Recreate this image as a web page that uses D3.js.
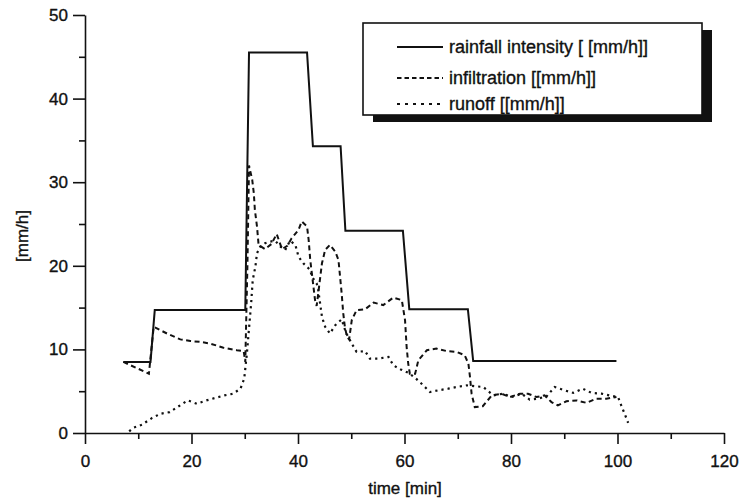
<!DOCTYPE html>
<html>
<head>
<meta charset="utf-8">
<script src="https://cdn.jsdelivr.net/npm/d3@7"></script>
<style>
  html, body { margin: 0; padding: 0; background: #fff; }
  svg { display: block; }
  text { font-family: "Liberation Sans", Arial, Helvetica, sans-serif; fill: #111; stroke: #111; stroke-width: 0.35px; }
</style>
</head>
<body>
<svg id="chart" width="742" height="501"></svg>
<script>
// ---- data ----
const rainTime  = [7.2, 12.3, 13.1, 30.1, 30.8, 41.7, 42.8, 48.0, 48.9, 59.7, 60.9, 71.9, 72.9, 99.8];
const rainValue = [8.5, 8.5, 14.7, 14.7, 45.5, 45.5, 34.3, 34.3, 24.2, 24.2, 14.8, 14.8, 8.6, 8.6];

const infilTime  = [7.2, 12.0, 12.9, 15.4, 17.9, 19.8, 21.7, 23.5, 26.0, 28.5, 29.8, 30.1, 30.5, 30.8, 31.4, 31.7, 31.9, 32.3, 32.6, 33.8, 35.0, 36.0, 37.0, 38.0, 38.8, 40.1, 40.7, 41.7, 42.0, 42.3, 42.6, 42.9, 43.2, 43.5, 43.8, 44.5, 45.1, 46.0, 47.0, 47.6, 47.9, 48.2, 48.5, 48.8, 49.2, 49.6, 50.1, 51.0, 52.6, 54.2, 56.0, 57.9, 59.5, 60.1, 60.4, 60.7, 61.0, 62.0, 62.6, 64.2, 66.0, 67.9, 69.8, 71.3, 72.0, 72.3, 72.6, 73.2, 74.7, 76.4, 78.2, 79.8, 81.7, 83.2, 84.8, 86.3, 87.6, 88.8, 90.4, 92.3, 94.2, 96.0, 97.9, 99.8];
const infilValue = [8.5, 7.1, 12.7, 11.9, 11.2, 11.0, 10.9, 10.7, 10.2, 9.9, 9.8, 8.5, 20.0, 32.0, 30.3, 28.7, 26.7, 24.7, 22.5, 22.0, 22.6, 23.8, 22.0, 22.4, 23.3, 24.3, 25.3, 24.7, 23.1, 20.7, 19.1, 17.5, 15.9, 15.2, 16.7, 20.3, 21.9, 22.5, 21.7, 20.7, 18.7, 16.7, 14.3, 12.7, 11.5, 11.2, 13.5, 14.7, 14.8, 15.6, 15.3, 16.2, 15.9, 13.5, 10.3, 8.3, 7.1, 7.1, 8.7, 9.9, 10.1, 9.8, 9.7, 9.3, 8.3, 6.7, 4.7, 3.1, 3.2, 4.5, 4.7, 4.3, 4.7, 4.7, 4.3, 4.5, 3.7, 3.3, 3.8, 3.9, 3.6, 4.1, 4.1, 4.3];

const runoffTime  = [8.3, 9.0, 10.7, 12.6, 14.2, 15.9, 17.6, 19.3, 21.0, 22.8, 24.5, 26.2, 27.8, 29.2, 29.9, 30.4, 30.8, 31.2, 31.5, 32.0, 32.3, 32.9, 33.8, 34.8, 35.7, 36.7, 37.6, 38.5, 39.5, 40.1, 41.0, 42.3, 42.6, 43.5, 43.8, 44.5, 45.1, 46.0, 47.0, 48.2, 49.0, 50.1, 51.0, 52.6, 53.5, 55.1, 57.0, 57.9, 59.3, 60.7, 62.0, 63.2, 64.8, 66.3, 68.2, 69.8, 71.7, 73.2, 74.8, 76.7, 78.5, 80.1, 82.0, 83.5, 85.0, 86.7, 88.2, 90.1, 91.7, 93.5, 95.1, 97.0, 98.5, 100.1, 100.7, 101.4, 102.0];
const runoffValue = [0.2, 0.6, 1.0, 1.8, 2.3, 2.5, 3.2, 3.9, 3.5, 3.9, 4.2, 4.5, 4.7, 5.3, 6.5, 9.5, 12.5, 15.5, 18.3, 19.9, 21.5, 22.3, 22.7, 22.9, 23.0, 22.3, 21.9, 23.0, 22.5, 21.1, 20.3, 19.5, 18.7, 17.9, 17.1, 13.9, 12.7, 11.9, 12.9, 13.6, 12.0, 10.7, 9.7, 9.8, 8.9, 8.9, 9.1, 8.1, 7.6, 7.2, 6.6, 5.9, 4.9, 5.1, 5.3, 5.5, 5.7, 5.6, 5.5, 4.5, 4.7, 4.3, 4.7, 4.0, 4.1, 4.4, 5.5, 5.1, 4.8, 5.3, 4.8, 4.7, 4.5, 4.3, 3.3, 2.2, 1.2];

const xMajorTicks = [0, 20, 40, 60, 80, 100, 120];
const xMinorTicks = [10, 30, 50, 70, 90, 110];
const yMajorTicks = [0, 10, 20, 30, 40, 50];
const yMinorTicks = [5, 15, 25, 35, 45];

const seriesNames = ["rainfall intensity [ [mm/h]]", "infiltration [[mm/h]]", "runoff [[mm/h]]"];
const xTitle = "time [min]";
const yTitle = "[mm/h]";

// ---- drawing ----
const svg = d3.select("#chart");
const x = d3.scaleLinear().domain([0, 120]).range([85, 724]);
const y = d3.scaleLinear().domain([0, 50]).range([433, 15]);

const axisFont = 17;

// x axis
const gx = svg.append("g").attr("transform", `translate(0,${y(0)})`)
  .call(d3.axisBottom(x).tickValues(xMajorTicks).tickSize(11).tickSizeOuter(0).tickPadding(11).tickFormat(d3.format("d")));
gx.append("g").call(d3.axisBottom(x).tickValues(xMinorTicks).tickSize(6).tickFormat(""))
  .select(".domain").remove();
// y axis
const gy = svg.append("g").attr("transform", `translate(${x(0)},0)`)
  .call(d3.axisLeft(y).tickValues(yMajorTicks).tickSize(12).tickSizeOuter(0).tickPadding(5).tickFormat(d3.format("d")));
gy.append("g").call(d3.axisLeft(y).tickValues(yMinorTicks).tickSize(6).tickFormat(""))
  .select(".domain").remove();

svg.selectAll(".domain").attr("stroke", "#111").attr("stroke-width", 1.6);
svg.selectAll(".tick line").attr("stroke", "#111").attr("stroke-width", 1.6);
svg.selectAll(".tick text").attr("font-size", axisFont)
  .attr("font-family", "Liberation Sans, Arial, sans-serif").attr("fill", "#111");

// axis titles
svg.append("text").attr("x", 405).attr("y", 494).attr("text-anchor", "middle")
  .attr("font-size", axisFont).text(xTitle);
svg.append("text").attr("transform", "translate(28,236) rotate(-90)").attr("text-anchor", "middle")
  .attr("font-size", axisFont).text(yTitle);

const line = d3.line().x(d => x(d[0])).y(d => y(d[1]));
const zip = (a, b) => a.map((v, i) => [v, b[i]]);

const styles = [
  { dash: null, width: 2.0 },
  { dash: "5,3.5", width: 2.0 },
  { dash: "2.2,4", width: 2.2 }
];

svg.append("path").datum(zip(infilTime, infilValue)).attr("d", line)
  .attr("fill", "none").attr("stroke", "#111").attr("stroke-width", styles[1].width)
  .attr("stroke-dasharray", styles[1].dash);
svg.append("path").datum(zip(runoffTime, runoffValue)).attr("d", line)
  .attr("fill", "none").attr("stroke", "#111").attr("stroke-width", styles[2].width)
  .attr("stroke-dasharray", styles[2].dash);
svg.append("path").datum(zip(rainTime, rainValue)).attr("d", line)
  .attr("fill", "none").attr("stroke", "#111").attr("stroke-width", styles[0].width);

// legend
const lg = svg.append("g");
lg.append("rect").attr("x", 373).attr("y", 30).attr("width", 339).attr("height", 92).attr("fill", "#111");
lg.append("rect").attr("x", 363).attr("y", 23).attr("width", 339).attr("height", 92)
  .attr("fill", "#fff").attr("stroke", "#111").attr("stroke-width", 1.6);
const rowsY = [47, 78, 104];
seriesNames.forEach((name, i) => {
  lg.append("line").attr("x1", 397).attr("x2", 443).attr("y1", rowsY[i]).attr("y2", rowsY[i])
    .attr("stroke", "#111").attr("stroke-width", 1.8)
    .attr("stroke-dasharray", i === 0 ? null : (i === 1 ? "4.5,3" : "3,5"));
  lg.append("text").attr("x", 449).attr("y", rowsY[i] + 6).attr("font-size", 18).text(name);
});
</script>
</body>
</html>
